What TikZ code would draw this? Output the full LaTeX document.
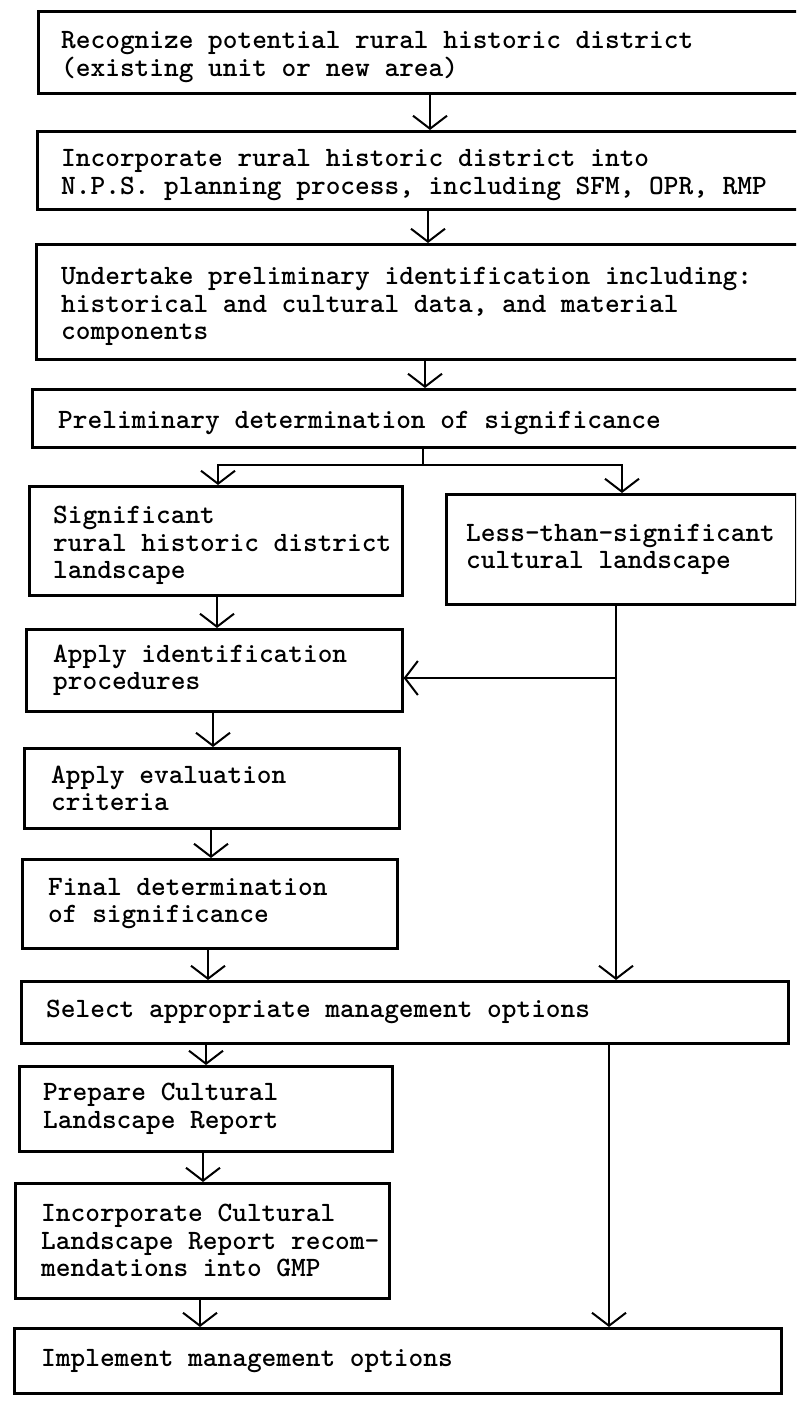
\documentclass[tikz,border=0pt]{standalone}
\usetikzlibrary{arrows.meta}
\begin{document}
\begin{tikzpicture}[x=1pt,y=-1pt,
  flowbox/.style={draw, rectangle, line width=2.6pt, inner sep=0pt, anchor=north west},
  txt/.style={font=\ttfamily\bfseries\fontsize{28}{27.5}\selectfont, align=left, inner sep=0pt, anchor=west},
  conn/.style={line width=2pt},
  thin/.style={line width=1.6pt},
  arr/.style={-{Straight Barb[length=13pt,width=34pt,line width=2pt]}}]
\useasboundingbox (0,0) rectangle (796,1401);
\clip (0,0) rectangle (796,1401);
% boxes
\node[flowbox, minimum width=773pt, minimum height=82pt]  (b1)  at (37,10) {};
\node[flowbox, minimum width=774pt, minimum height=78pt]  (b2)  at (36,130) {};
\node[flowbox, minimum width=775pt, minimum height=115pt] (b3)  at (35,243) {};
\node[flowbox, minimum width=779pt, minimum height=58pt]  (b4)  at (31,388) {};
\node[flowbox, minimum width=373pt, minimum height=109pt] (b5)  at (28,485) {};
\node[flowbox, minimum width=350pt, minimum height=110pt] (b6)  at (445,493) {};
\node[flowbox, minimum width=376pt, minimum height=82pt]  (b7)  at (25,628) {};
\node[flowbox, minimum width=375pt, minimum height=80pt]  (b8)  at (23,747) {};
\node[flowbox, minimum width=375pt, minimum height=89pt]  (b9)  at (21,858) {};
\node[flowbox, minimum width=767pt, minimum height=62pt]  (b10) at (20,980) {};
\node[flowbox, minimum width=373pt, minimum height=85pt]  (b11) at (18,1065) {};
\node[flowbox, minimum width=374pt, minimum height=115pt] (b12) at (14,1182) {};
\node[flowbox, minimum width=767pt, minimum height=65pt]  (b13) at (13,1327) {};
% texts
\node[txt] (t1)  at ([xshift=24pt,yshift=-5pt]b1.west)  {Recognize potential rural historic district\\(existing unit or new area)};
\node[txt] (t2)  at ([xshift=25pt,yshift=-5pt]b2.west)  {Incorporate rural historic district into\\N.P.S. planning process, including SFM, OPR, RMP};
\node[txt] (t3)  at ([xshift=26pt,yshift=-5pt]b3.west)  {Undertake preliminary identification including:\\historical and cultural data, and material\\components};
\node[txt] (t4)  at ([xshift=27pt,yshift=-5pt]b4.west)  {Preliminary determination of significance};
\node[txt] (t5)  at ([xshift=25pt,yshift=-5pt]b5.west)  {Significant\\rural historic district\\landscape};
\node[txt] (t6)  at ([xshift=21pt]b6.west)  {Less-than-significant\\cultural landscape};
\node[txt] (t7)  at ([xshift=28pt]b7.west)  {Apply identification\\procedures};
\node[txt] (t8)  at ([xshift=28pt]b8.west)  {Apply evaluation\\criteria};
\node[txt] (t9)  at ([xshift=27pt]b9.west)  {Final determination\\of significance};
\node[txt] (t10) at ([xshift=26pt]b10.west) {Select appropriate management options};
\node[txt] (t11) at ([xshift=25pt]b11.west) {Prepare Cultural\\Landscape Report};
\node[txt] (t12) at ([xshift=27pt]b12.west) {Incorporate Cultural\\Landscape Report recom-\\mendations into GMP};
\node[txt] (t13) at ([xshift=28pt]b13.west) {Implement management options};
% column coordinates
\coordinate (x1) at (430,0);
\coordinate (x2) at (428,0);
\coordinate (x3) at (425,0);
\coordinate (j)  at (423,465);
\coordinate (jl) at (218,465);
\coordinate (jr) at (622,465);
\coordinate (x5) at (217,0);
\coordinate (x7) at (213,0);
\coordinate (x8) at (211,0);
\coordinate (x9) at (208,0);
\coordinate (x10) at (206,0);
\coordinate (x11) at (203,0);
\coordinate (x12) at (200,0);
\coordinate (r1) at (616,0);
\coordinate (h)  at (616,678);
\coordinate (r2) at (609,0);
% connectors
\draw[conn,arr] (b1.south -| x1) -- (b2.north -| x1);
\draw[conn,arr] (b2.south -| x2) -- (b3.north -| x2);
\draw[conn,arr] (b3.south -| x3) -- (b4.north -| x3);
\draw[conn] (b4.south -| j) -- (j);
\draw[conn,arr] (j) -| (b5.north -| jl);
\draw[conn,arr] (j) -| (b6.north -| jr);
\draw[conn,arr] (b5.south -| x5) -- (b7.north -| x5);
\draw[conn,arr] (b7.south -| x7) -- (b8.north -| x7);
\draw[conn,arr] (b8.south -| x8) -- (b9.north -| x8);
\draw[conn,arr] (b9.south -| x9) -- (b10.north -| x9);
\draw[thin,arr] (b6.south -| r1) -- (b10.north -| r1);
\draw[conn,arr] (h) -- (b7.east |- h);
\draw[conn,arr] (b10.south -| x10) -- (b11.north -| x10);
\draw[conn,arr] (b11.south -| x11) -- (b12.north -| x11);
\draw[conn,arr] (b12.south -| x12) -- (b13.north -| x12);
\draw[thin,arr] (b10.south -| r2) -- (b13.north -| r2);
\end{tikzpicture}
\end{document}
